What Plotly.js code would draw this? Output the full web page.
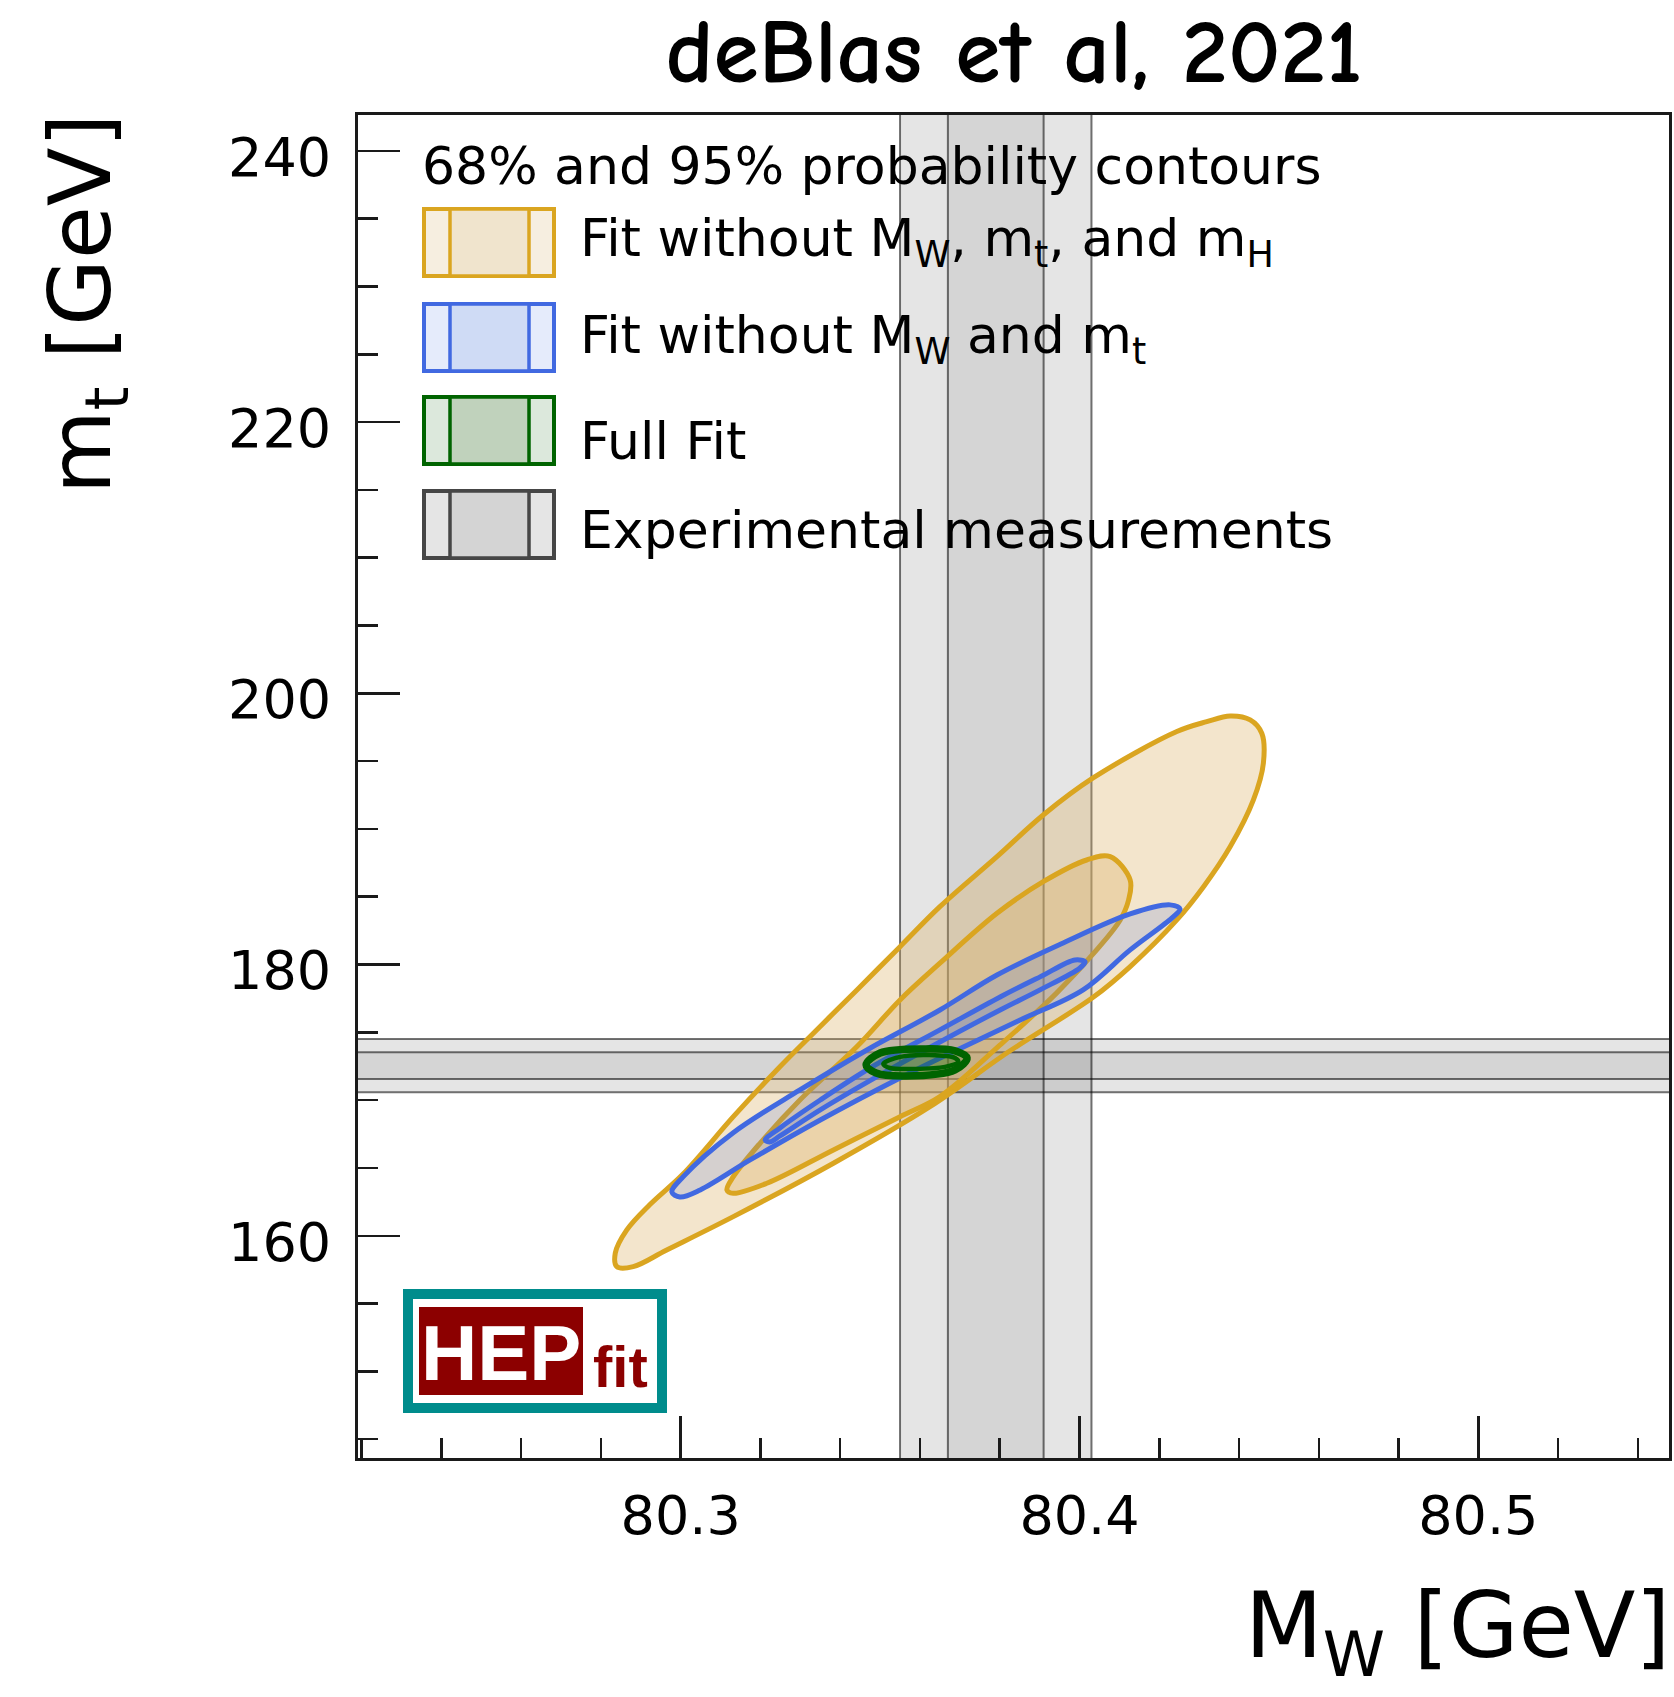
<!DOCTYPE html>
<html>
<head>
<meta charset="utf-8">
<script src="https://cdn.plot.ly/plotly-3.0.1.min.js"></script>
<style>
  html, body { margin: 0; padding: 0; background: #ffffff; }
  #chart { width: 1674px; height: 1697px; }
</style>
</head>
<body>
<div id="chart"></div>
<script>
// ---------------- data ----------------
// Experimental measurements: 68% and 95% bands
const mwExp68 = [80.367, 80.391];
const mwExp95 = [80.355, 80.403];
const mtExp68 = [171.56, 173.53];
const mtExp95 = [170.58, 174.51];

// Fit without MW, mt and mH (orange) - 95% contour
const orange95Mw = [80.2840, 80.2836, 80.2865, 80.2923, 80.3006, 80.3132, 80.3241, 80.3341, 80.3442, 80.3550,
                    80.3650, 80.3793, 80.3909, 80.4034, 80.4244, 80.4319, 80.4378, 80.4428, 80.4457, 80.4461,
                    80.4436, 80.4378, 80.4311, 80.4244, 80.4127, 80.4035, 80.3826, 80.3625, 80.3383, 80.3132,
                    80.2965, 80.2881];
const orange95Mt = [157.72, 158.71, 160.43, 162.30, 164.55, 168.78, 172.23, 175.18, 178.13, 181.32,
                    184.27, 187.96, 191.03, 193.76, 197.18, 197.91, 198.33, 198.04, 197.06, 194.85,
                    192.14, 188.70, 185.74, 183.29, 179.85, 177.60, 173.64, 169.52, 165.35, 161.41,
                    158.95, 157.72];
// orange - 68% contour
const orange68Mw = [80.3116, 80.3132, 80.3199, 80.3299, 80.3442, 80.3550, 80.3650, 80.3793, 80.3909, 80.4018,
                    80.4077, 80.4127, 80.4123, 80.4102, 80.4043, 80.3943, 80.3801, 80.3650, 80.3550, 80.3383,
                    80.3216, 80.3132];
const orange68Mt = [163.38, 164.36, 166.82, 170.01, 173.95, 177.39, 180.10, 183.78, 186.11, 187.71,
                    187.96, 186.24, 184.76, 183.29, 181.08, 177.91, 174.07, 170.26, 168.78, 166.33,
                    163.87, 163.13];

// Fit without MW and mt (blue) - 95% contour
const blue95Mw = [80.2978, 80.3006, 80.3131, 80.3299, 80.3467, 80.3650, 80.3793, 80.3959, 80.4127, 80.4227,
                  80.4252, 80.4232, 80.4127, 80.4009, 80.3851, 80.3693, 80.3550, 80.3350, 80.3174, 80.3049,
                  80.2998];
const blue95Mt = [163.23, 164.34, 167.58, 170.75, 173.70, 176.65, 179.23, 181.59, 183.73, 184.40,
                  184.10, 183.44, 181.08, 178.13, 175.91, 173.70, 171.64, 168.54, 165.59, 163.38,
                  162.86];
// blue - 68% contour
const blue68Mw = [80.3212, 80.3249, 80.3350, 80.3475, 80.3650, 80.3801, 80.3901, 80.3989, 80.4014, 80.4001,
                  80.3901, 80.3801, 80.3650, 80.3500, 80.3350, 80.3249, 80.3224];
const blue68Mt = [167.06, 167.95, 170.01, 172.37, 175.18, 177.61, 179.09, 180.34, 180.19, 179.75,
                  178.13, 176.65, 174.29, 171.86, 169.28, 167.36, 166.92];

// Full fit (green) - 95% and 68% contours
const green95Mw = [80.3465, 80.3500, 80.3613, 80.3688, 80.3718, 80.3688, 80.3565, 80.3490];
const green95Mt = [172.60, 173.48, 173.78, 173.63, 173.11, 172.23, 171.78, 172.00];
const green68Mw = [80.3508, 80.3550, 80.3625, 80.3688, 80.3696, 80.3663, 80.3588, 80.3525];
const green68Mt = [172.67, 173.19, 173.33, 173.11, 172.82, 172.45, 172.30, 172.37];

// Legend entries
const legendHeader = "68% and 95% probability contours";
const legendLabels = [
  "Fit without M<sub>W</sub>, m<sub>t</sub>, and m<sub>H</sub>",
  "Fit without M<sub>W</sub> and m<sub>t</sub>",
  "Full Fit",
  "Experimental measurements"
];

// ---------------- geometry & style ----------------
const FIG_W = 1674, FIG_H = 1697;
const L = 358, R = 1669, T = 115, B = 1458;
const PW = R - L, PH = B - T;
const px = x => (x - L) / PW;
const py = y => (B - y) / PH;

const ORANGE = 'rgb(218,165,32)';
const BLUE = 'rgb(65,105,225)';
const GREEN = 'rgb(0,100,0)';
const GRAYLINE = 'rgb(70,70,70)';
const FONT = 'DejaVu Sans, Verdana, Liberation Sans, sans-serif';

function closed(a) { return a.concat([a[0]]); }
function contour(mw, mt, color, fill, width) {
  return {
    type: 'scatter', mode: 'lines',
    x: closed(mw), y: closed(mt),
    fill: 'toself', fillcolor: fill,
    line: { color: color, width: width, shape: 'spline', smoothing: 1 },
    hoverinfo: 'skip', showlegend: false
  };
}

const traces = [
  contour(orange95Mw, orange95Mt, ORANGE, 'rgba(220,175,100,0.33)', 5),
  contour(orange68Mw, orange68Mt, ORANGE, 'rgba(220,175,100,0.33)', 5),
  contour(blue95Mw, blue95Mt, BLUE, 'rgba(65,105,225,0.17)', 5),
  contour(blue68Mw, blue68Mt, BLUE, 'rgba(65,105,225,0.17)', 5),
  contour(green95Mw, green95Mt, GREEN, 'rgba(0,100,0,0.2)', 7.5),
  contour(green68Mw, green68Mt, GREEN, 'rgba(0,100,0,0.2)', 4.5)
];

const shapes = [];
// experimental bands (behind contours)
function vband(r, fill) {
  shapes.push({ type: 'rect', layer: 'below', xref: 'x', yref: 'paper', x0: r[0], x1: r[1], y0: 0, y1: 1,
                fillcolor: fill, line: { width: 0 } });
}
function hband(r, fill) {
  shapes.push({ type: 'rect', layer: 'below', xref: 'paper', yref: 'y', x0: 0, x1: 1, y0: r[0], y1: r[1],
                fillcolor: fill, line: { width: 0 } });
}
vband(mwExp95, 'rgba(0,0,0,0.10)');
vband(mwExp68, 'rgba(0,0,0,0.065)');
hband(mtExp95, 'rgba(0,0,0,0.10)');
hband(mtExp68, 'rgba(0,0,0,0.065)');
[mwExp95, mwExp68].forEach(r => r.forEach(v => shapes.push({
  type: 'line', layer: 'below', xref: 'x', yref: 'paper', x0: v, x1: v, y0: 0, y1: 1,
  line: { color: 'rgba(0,0,0,0.55)', width: 2 } })));
[mtExp95, mtExp68].forEach(r => r.forEach(v => shapes.push({
  type: 'line', layer: 'below', xref: 'paper', yref: 'y', x0: 0, x1: 1, y0: v, y1: v,
  line: { color: 'rgba(0,0,0,0.55)', width: 2 } })));

// legend boxes
const legendStyles = [
  { line: ORANGE, outer: 'rgb(246,238,224)', inner: 'rgb(240,228,205)' },
  { line: BLUE,   outer: 'rgb(229,235,251)', inner: 'rgb(207,219,245)' },
  { line: GREEN,  outer: 'rgb(220,232,220)', inner: 'rgb(192,210,188)' },
  { line: GRAYLINE, outer: 'rgb(229,229,229)', inner: 'rgb(212,212,212)' }
];
const rowTop = [209, 304, 397, 491];
const rowH = 67;
const textY = [242, 339, 441, 530];
legendStyles.forEach((s, i) => {
  const y0 = rowTop[i], y1 = rowTop[i] + rowH;
  shapes.push({ type: 'rect', layer: 'above', xref: 'paper', yref: 'paper',
    x0: px(424), x1: px(554), y0: py(y1), y1: py(y0), fillcolor: s.outer, line: { color: s.line, width: 4 } });
  shapes.push({ type: 'rect', layer: 'above', xref: 'paper', yref: 'paper',
    x0: px(450), x1: px(529), y0: py(y1), y1: py(y0), fillcolor: s.inner, line: { color: s.line, width: 3.5 } });
});

// HEPfit logo
shapes.push({ type: 'rect', layer: 'above', xref: 'paper', yref: 'paper',
  x0: px(408), x1: px(662), y0: py(1408), y1: py(1294), fillcolor: '#ffffff',
  line: { color: 'rgb(0,140,140)', width: 10 } });
shapes.push({ type: 'rect', layer: 'above', xref: 'paper', yref: 'paper',
  x0: px(419), x1: px(583), y0: py(1395), y1: py(1307), fillcolor: 'rgb(140,0,0)', line: { width: 0 } });

const annotations = [];
annotations.push({ xref: 'paper', yref: 'paper', x: px(420), y: py(166), xanchor: 'left', yanchor: 'middle',
  text: legendHeader, showarrow: false, font: { family: FONT, size: 52, color: '#000' } });
legendLabels.forEach((t, i) => annotations.push({
  xref: 'paper', yref: 'paper', x: px(578), y: py(textY[i]), xanchor: 'left', yanchor: 'middle',
  text: t, showarrow: false, font: { family: FONT, size: 52, color: '#000' } }));

// logo texts
annotations.push({ xref: 'paper', yref: 'paper', x: px(501), y: py(1353), xanchor: 'center', yanchor: 'middle',
  text: '<b>HEP</b>', showarrow: false,
  font: { family: 'Liberation Sans Narrow, Liberation Sans, Arial, sans-serif', size: 78, color: '#ffffff' } });
annotations.push({ xref: 'paper', yref: 'paper', x: px(620), y: py(1366), xanchor: 'center', yanchor: 'middle',
  text: '<b>fit</b>', showarrow: false,
  font: { family: 'Liberation Sans Narrow, Liberation Sans, Arial, sans-serif', size: 58, color: 'rgb(140,0,0)' } });

// axis titles
annotations.push({ xref: 'paper', yref: 'paper', x: px(86), y: py(112), xanchor: 'center', yanchor: 'top',
  textangle: -90, text: 'm<sub>t</sub> [GeV]', showarrow: false,
  font: { family: FONT, size: 86, color: '#000' } });
annotations.push({ xref: 'paper', yref: 'paper', x: px(1672), y: py(1632), xanchor: 'right', yanchor: 'middle',
  text: 'M<sub>W</sub> [GeV]', showarrow: false,
  font: { family: FONT, size: 90, color: '#000' } });

const axisCommon = {
  showgrid: false, zeroline: false, showline: true, mirror: true,
  linecolor: '#1a1a1a', linewidth: 3,
  ticks: 'inside', ticklen: 42, tickwidth: 2.5, tickcolor: '#1a1a1a',
  tickfont: { family: FONT, size: 54, color: '#000' }
};

const layout = {
  width: FIG_W, height: FIG_H,
  margin: { l: L, r: FIG_W - R, t: T, b: FIG_H - B, pad: 0 },
  paper_bgcolor: '#ffffff', plot_bgcolor: '#ffffff',
  showlegend: false,
  title: { text: 'deBlas et al, 2021', x: 1014 / FIG_W, xref: 'container', xanchor: 'center',
           y: 1 - 50 / FIG_H, yref: 'container', yanchor: 'middle',
           font: { family: 'Comic Sans MS, Comic Neue, Comic Relief, cursive', size: 92, weight: 'bold', color: '#000' } },
  xaxis: Object.assign({}, axisCommon, {
    range: [80.2191, 80.5478], tick0: 80, dtick: 0.1, ticklabelstandoff: 8,
    minor: { ticks: 'inside', ticklen: 20, tickwidth: 2.5, tickcolor: '#1a1a1a', tick0: 80, dtick: 0.02, showgrid: false }
  }),
  yaxis: Object.assign({}, axisCommon, {
    range: [143.61, 242.65], tick0: 0, dtick: 20, ticklabelstandoff: 13, ticklabelshift: 6,
    minor: { ticks: 'inside', ticklen: 20, tickwidth: 2.5, tickcolor: '#1a1a1a', tick0: 0, dtick: 5, showgrid: false }
  }),
  shapes: shapes,
  annotations: annotations
};

Plotly.newPlot('chart', traces, layout, { displayModeBar: false, staticPlot: true });
</script>
</body>
</html>
